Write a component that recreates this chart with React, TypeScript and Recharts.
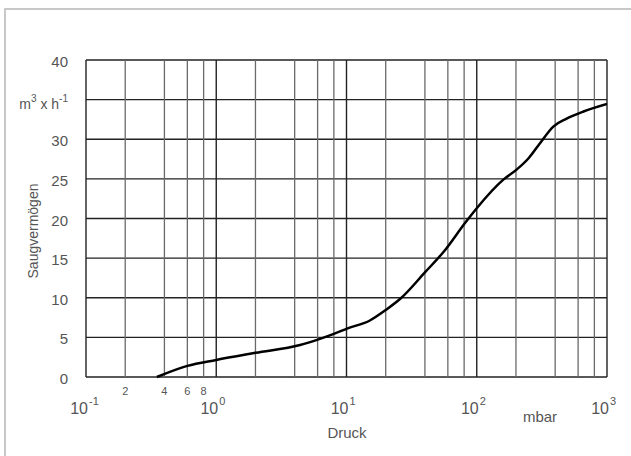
import { CartesianGrid, Line, LineChart, ReferenceLine, XAxis, YAxis } from "recharts";

// Druck in mbar, Saugvermögen in m³/h
const pressure = [0.35, 0.6, 1, 2, 4.4, 6.1, 7.9, 10.2, 15, 20, 26, 40, 57, 81, 100, 160, 200, 250, 306, 387, 490, 660, 1000];
const speed = [0, 1.4, 2.15, 3.05, 4.04, 4.75, 5.4, 6.14, 7.1, 8.45, 9.9, 13.2, 16.0, 19.4, 21.3, 24.9, 26.1, 27.6, 29.5, 31.6, 32.6, 33.5, 34.45];

const decades = [0.1, 1, 10, 100, 1000];
const minorGrid = [0.2, 0.4, 0.6, 0.8, 2, 4, 6, 8, 20, 40, 60, 80, 200, 400, 600, 800];
const xTicks = [0.1, 0.2, 0.4, 0.6, 0.8, 1, 10, 100, 1000];
const smallLabels: Record<number, string> = { 0.2: "2", 0.4: "4", 0.6: "6", 0.8: "8" };
const exponents: Record<number, string> = { 0.1: "-1", 1: "0", 10: "1", 100: "2", 1000: "3" };
const yTicks = [0, 5, 10, 15, 20, 25, 30, 35, 40];

const data = pressure.map((p, i) => ({ p, v: speed[i] }));

const FONT = "'Liberation Sans', Arial, sans-serif";
const GREY = "#555";

function XTick({ x, y, payload }: any) {
  const v = payload.value as number;
  if (smallLabels[v]) {
    return (
      <text x={x} y={y + 10} textAnchor="middle" fontSize={11} fill={GREY} fontFamily={FONT}>
        {smallLabels[v]}
      </text>
    );
  }
  return (
    <g fontFamily={FONT} fill={GREY}>
      <text x={x + 2} y={y + 29} textAnchor="end" fontSize={16}>
        10
      </text>
      <text x={x + 3} y={y + 20} textAnchor="start" fontSize={11}>
        {exponents[v]}
      </text>
    </g>
  );
}

function YTick({ x, y, payload }: any) {
  const v = payload.value as number;
  if (v === 35) {
    return (
      <text x={x - 10} y={y + 9} textAnchor="end" fontSize={14} fill={GREY} fontFamily={FONT}>
        m<tspan dy={-7} fontSize={10}>3</tspan>
        <tspan dy={7}> x h</tspan>
        <tspan dy={-7} fontSize={10}>-1</tspan>
      </text>
    );
  }
  return (
    <text x={x - 10} y={y + 7} textAnchor="end" fontSize={15} fill={GREY} fontFamily={FONT}>
      {v}
    </text>
  );
}

const label = { position: "absolute" as const, fontFamily: FONT, fontSize: 15, color: GREY, whiteSpace: "nowrap" as const };

export default function App() {
  return (
    <div style={{ position: "absolute", left: 0, top: 0, width: 631, height: 456, background: "#fff", overflow: "hidden" }}>
      <div style={{ position: "absolute", left: 4, top: 8, width: 627, height: 2, background: "#c8c8c8" }} />
      <div style={{ position: "absolute", left: 4, top: 8, width: 2, height: 448, background: "#c8c8c8" }} />
      <div style={{ position: "absolute", left: 0, top: 0 }}>
        <LineChart width={631} height={456} data={data} margin={{ top: 60, right: 24, bottom: 19, left: 6 }}>
          <CartesianGrid vertical={false} stroke="#222" strokeWidth={1.3} />
          {minorGrid.map((g) => (
            <ReferenceLine key={"m" + g} x={g} stroke="#6a6a6a" strokeWidth={1.3} />
          ))}
          {decades.map((g) => (
            <ReferenceLine key={"d" + g} x={g} stroke="#222" strokeWidth={1.4} />
          ))}
          <XAxis
            dataKey="p"
            type="number"
            scale="log"
            domain={[0.1, 1000]}
            ticks={xTicks}
            interval={0}
            tick={<XTick />}
            tickLine={false}
            axisLine={false}
            height={60}
            allowDataOverflow
          />
          <YAxis
            type="number"
            domain={[0, 40]}
            ticks={yTicks}
            interval={0}
            tick={<YTick />}
            tickLine={false}
            axisLine={false}
            width={80}
          />
          <Line
            type="monotone"
            dataKey="v"
            stroke="#000"
            strokeWidth={2.5}
            dot={false}
            isAnimationActive={false}
          />
        </LineChart>
      </div>
      <div style={{ ...label, left: 33, top: 231, fontSize: 14, transform: "translate(-50%, -50%) rotate(-90deg)" }}>
        Saugvermögen
      </div>
      <div style={{ ...label, left: 347, top: 424, transform: "translateX(-50%)" }}>Druck</div>
      <div style={{ ...label, left: 540, top: 408, transform: "translateX(-50%)" }}>mbar</div>
    </div>
  );
}
